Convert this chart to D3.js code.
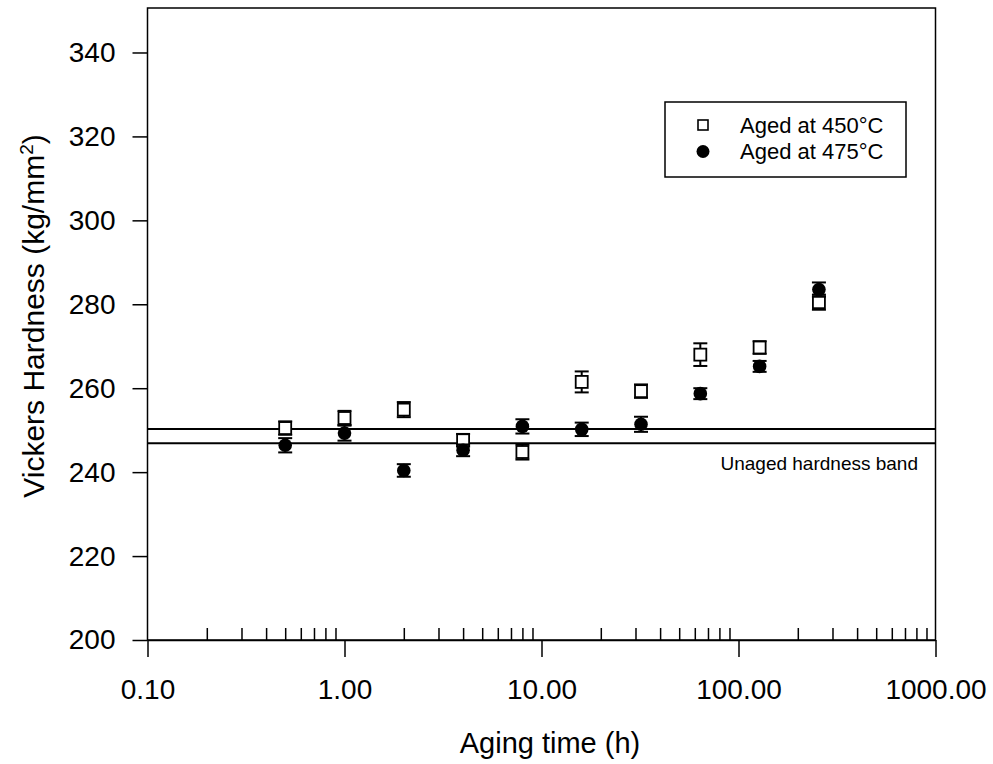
<!DOCTYPE html>
<html>
<head>
<meta charset="utf-8">
<script src="https://cdn.jsdelivr.net/npm/d3@7"></script>
<style>
  body { margin: 0; background: #fff; }
  svg { display: block; font-family: "Liberation Sans", Arial, sans-serif; }
  .axis path, .axis line { stroke: #000; stroke-width: 1.5px; }
  .axis text { fill: #000; }
</style>
</head>
<body>
<svg width="993" height="764"></svg>
<script>
// aging time (h) and hardness readings
const hours = [0.5, 1, 2, 4, 8, 16, 32, 64, 128, 256];
const hv450 = [250.5, 252.9, 254.9, 247.6, 244.8, 261.5, 259.3, 268.0, 269.7, 280.5];
const err450 = [1.6, 1.7, 1.8, 1.5, 1.8, 2.5, 1.6, 2.7, 1.5, 1.8];
const hv475 = [246.4, 249.3, 240.4, 245.2, 250.9, 250.2, 251.4, 258.7, 265.2, 283.5];
const err475 = [1.7, 1.8, 1.5, 1.4, 1.7, 1.6, 1.8, 1.3, 1.3, 1.7];
const bandLimits = [246.9, 250.3];
const xMajorTicks = [0.1, 1, 10, 100, 1000];
const yTicks = [200, 220, 240, 260, 280, 300, 320, 340];
const legendLabels = ["Aged at 450°C", "Aged at 475°C"];

const svg = d3.select("svg");
const plotL = 147.5, plotR = 935.5, plotT = 8, plotB = 640;

const x = d3.scaleLog().domain([0.1, 1000]).range([plotL, plotR]);
const y = d3.scaleLinear().domain([200, 350.6]).range([plotB, plotT]);

// minor ticks 2..9 in each decade
const xMinorTicks = [];
xMajorTicks.slice(0, -1).forEach(d => {
    for (let k = 2; k <= 9; k++) xMinorTicks.push(d * k);
});

// frame
svg.append("rect")
    .attr("x", plotL).attr("y", plotT)
    .attr("width", plotR - plotL).attr("height", plotB - plotT)
    .attr("fill", "none").attr("stroke", "#000").attr("stroke-width", 1.5);

// x axis: major ticks outward, minor ticks inward
svg.append("g")
    .attr("class", "axis")
    .attr("transform", `translate(0,${plotB})`)
    .call(d3.axisBottom(x).tickValues(xMinorTicks).tickSize(-12).tickFormat(""))
    .call(g => g.select(".domain").remove());

svg.append("g")
    .attr("class", "axis")
    .attr("transform", `translate(0,${plotB})`)
    .call(d3.axisBottom(x).tickValues(xMajorTicks).tickSize(17).tickSizeOuter(0).tickPadding(22).tickFormat(d3.format(".2f")))
    .call(g => g.selectAll("text").attr("font-size", 28));

// y axis
svg.append("g")
    .attr("class", "axis")
    .attr("transform", `translate(${plotL},0)`)
    .call(d3.axisLeft(y).tickValues(yTicks).tickSize(15).tickSizeOuter(0).tickPadding(17))
    .call(g => g.select(".domain").remove())
    .call(g => g.selectAll("text").attr("font-size", 28));

// axis titles
svg.append("text")
    .attr("x", 550).attr("y", 753)
    .attr("text-anchor", "middle").attr("font-size", 29)
    .text("Aging time (h)");

const ytitle = svg.append("text")
    .attr("transform", "translate(44,316) rotate(-90)")
    .attr("text-anchor", "middle").attr("font-size", 30);
ytitle.append("tspan").text("Vickers Hardness (kg/mm");
ytitle.append("tspan").attr("dy", -11).attr("font-size", 19).text("2");
ytitle.append("tspan").attr("dy", 11).text(")");

// unaged hardness band
svg.selectAll(".band")
    .data(bandLimits)
    .join("line")
    .attr("class", "band")
    .attr("x1", plotL).attr("x2", plotR)
    .attr("y1", d => y(d)).attr("y2", d => y(d))
    .attr("stroke", "#000").attr("stroke-width", 2);

svg.append("text")
    .attr("x", 918).attr("y", 470)
    .attr("text-anchor", "end").attr("font-size", 19)
    .text("Unaged hardness band");

// error bars
function errorBars(vals, errs) {
    const data = hours.map((h, i) => ({ h, v: vals[i], e: errs[i] }));
    const g = svg.append("g").attr("stroke", "#000").attr("stroke-width", 2);
    g.selectAll(".stem").data(data).join("line")
        .attr("x1", d => x(d.h)).attr("x2", d => x(d.h))
        .attr("y1", d => y(d.v - d.e)).attr("y2", d => y(d.v + d.e));
    g.selectAll(".capTop").data(data).join("line")
        .attr("x1", d => x(d.h) - 7).attr("x2", d => x(d.h) + 7)
        .attr("y1", d => y(d.v + d.e)).attr("y2", d => y(d.v + d.e));
    g.selectAll(".capBot").data(data).join("line")
        .attr("x1", d => x(d.h) - 7).attr("x2", d => x(d.h) + 7)
        .attr("y1", d => y(d.v - d.e)).attr("y2", d => y(d.v - d.e));
}

errorBars(hv450, err450);
svg.append("g").selectAll("rect")
    .data(hours.map((h, i) => ({ h, v: hv450[i] })))
    .join("rect")
    .attr("x", d => x(d.h) - 6).attr("y", d => y(d.v) - 6)
    .attr("width", 12).attr("height", 12)
    .attr("fill", "#fff").attr("stroke", "#000").attr("stroke-width", 1.8);

errorBars(hv475, err475);
svg.append("g").selectAll("circle")
    .data(hours.map((h, i) => ({ h, v: hv475[i] })))
    .join("circle")
    .attr("cx", d => x(d.h)).attr("cy", d => y(d.v))
    .attr("r", 6.8).attr("fill", "#000");

// legend
const legend = svg.append("g");
legend.append("rect")
    .attr("x", 665).attr("y", 102).attr("width", 241).attr("height", 75)
    .attr("fill", "#fff").attr("stroke", "#000").attr("stroke-width", 1.5);
legend.append("rect")
    .attr("x", 698).attr("y", 120).attr("width", 10).attr("height", 10)
    .attr("fill", "#fff").attr("stroke", "#000").attr("stroke-width", 1.6);
legend.append("circle")
    .attr("cx", 703).attr("cy", 151.5).attr("r", 6.5).attr("fill", "#000");
legend.selectAll("text")
    .data(legendLabels)
    .join("text")
    .attr("x", 740).attr("y", (d, i) => 133 + i * 26)
    .attr("font-size", 22)
    .text(d => d);
</script>
</body>
</html>
